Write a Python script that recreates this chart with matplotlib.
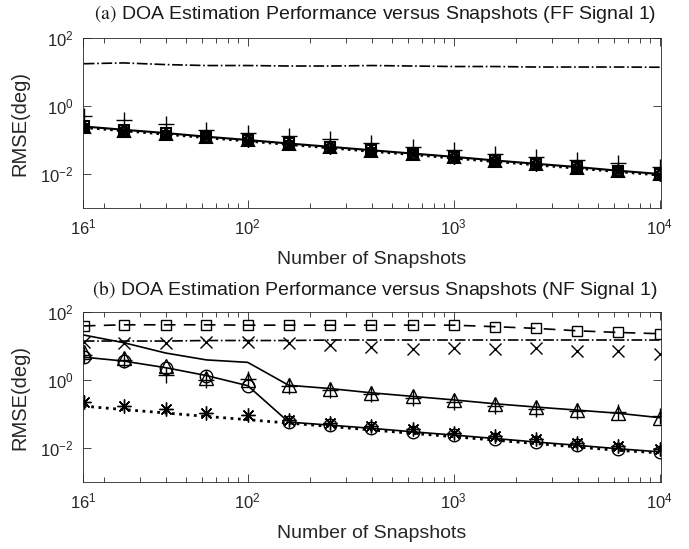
import matplotlib
matplotlib.use("Agg")
import matplotlib.pyplot as plt
from matplotlib.ticker import LogLocator, NullLocator, FixedLocator, FixedFormatter

plt.rcParams["font.family"] = ["Liberation Sans", "DejaVu Sans"]
plt.rcParams["mathtext.default"] = "regular"
plt.rcParams["mathtext.fontset"] = "stix"

# snapshot counts (x axis)
snapshots = [16, 25, 40, 63, 100, 158, 251, 398, 631, 1000, 1585, 2512, 3981, 6310, 10000]

x_ticks = [10 ** 1.2, 1e2, 1e3, 1e4]
x_tick_labels = ["$16^1$", "$10^2$", "$10^3$", "$10^4$"]
y_ticks = [1e-2, 1e0, 1e2]
y_tick_labels = ["$10^{-2}$", "$10^0$", "$10^2$"]

# (a) far-field signal
ff_dashdot = [17.5, 18.5, 16.5, 15.5, 15.5, 15.0, 15.0, 15.5, 15.0, 14.5, 14.5, 14.0, 14.0, 14.0, 13.8]
ff_plus = [0.50, 0.40, 0.30, 0.20, 0.16, 0.13, 0.105, 0.082, 0.062, 0.050, 0.040, 0.031, 0.026, 0.021, 0.016]
ff_square = [0.25, 0.20, 0.16, 0.125, 0.10, 0.079, 0.063, 0.050, 0.040, 0.032, 0.025, 0.020, 0.016, 0.0125, 0.010]
ff_triangle = [0.24, 0.19, 0.155, 0.12, 0.098, 0.076, 0.061, 0.048, 0.039, 0.031, 0.0245, 0.0195, 0.0155, 0.0122, 0.0098]
ff_circle = [0.245, 0.195, 0.155, 0.123, 0.099, 0.078, 0.062, 0.049, 0.039, 0.031, 0.025, 0.0198, 0.0157, 0.0124, 0.0099]
ff_star = [0.24, 0.19, 0.15, 0.12, 0.096, 0.076, 0.060, 0.048, 0.038, 0.030, 0.024, 0.019, 0.015, 0.012, 0.0095]
ff_crb = [0.23, 0.185, 0.146, 0.116, 0.092, 0.073, 0.058, 0.046, 0.037, 0.029, 0.023, 0.0184, 0.0146, 0.0116, 0.0092]

# (b) near-field signal
nf_square = [39, 42, 42, 42, 41, 41, 41, 41, 41, 41, 37, 33, 28, 25, 23]
nf_dashdot = [14, 14, 14, 14.5, 14.5, 14.5, 15, 15, 15, 15, 15, 15, 15, 15, 15]
nf_cross = [13.5, 12, 12, 13, 13, 12, 10.5, 9.5, 8, 9, 8, 8.5, 7, 7, 6]
nf_solid = [21, 12.5, 6.2, 3.9, 3.3, 0.70, 0.56, 0.42, 0.33, 0.26, 0.20, 0.16, 0.13, 0.105, 0.078]
nf_triangle = [6.5, 4.3, 2.5, 1.15, 1.0, 0.70, 0.56, 0.42, 0.33, 0.26, 0.20, 0.16, 0.13, 0.105, 0.078]
nf_plus = [5.5, 4.0, 1.4, 1.0, 1.05, 0.65, 0.50, 0.38, 0.29, 0.22, 0.17, 0.14, 0.12, 0.115, 0.085]
nf_circle = [4.7, 3.6, 2.3, 1.35, 0.68, 0.058, 0.047, 0.038, 0.030, 0.024, 0.019, 0.015, 0.012, 0.0095, 0.0077]
nf_star = [0.23, 0.17, 0.145, 0.11, 0.093, 0.068, 0.055, 0.044, 0.036, 0.028, 0.022, 0.018, 0.014, 0.0115, 0.0092]
nf_crb = [0.17, 0.135, 0.107, 0.085, 0.068, 0.054, 0.043, 0.034, 0.027, 0.0215, 0.017, 0.0135, 0.0107, 0.0085, 0.0072]

TEXT = "#262626"
ASTERISK = (8, 2, 0)
MK = dict(color="k", mfc="none", mew=1.0)
MK_A = dict(color="k", mfc="none", mew=1.5)


def style_axes(ax):
    ax.set_xscale("log")
    ax.set_yscale("log")
    ax.set_xlim(10 ** 1.2, 10150)
    ax.set_ylim(1e-3, 1e2)
    ax.xaxis.set_major_locator(FixedLocator(x_ticks))
    ax.xaxis.set_major_formatter(FixedFormatter(x_tick_labels))
    ax.xaxis.set_minor_locator(LogLocator(base=10, subs=range(2, 10)))
    ax.yaxis.set_major_locator(FixedLocator(y_ticks))
    ax.yaxis.set_major_formatter(FixedFormatter(y_tick_labels))
    ax.yaxis.set_minor_locator(NullLocator())
    ax.tick_params(which="both", direction="in", top=True, right=True,
                   colors=TEXT, labelsize=12, width=0.6)
    ax.tick_params(which="major", length=6, pad=7)
    ax.tick_params(which="minor", length=3.5)
    for s in ax.spines.values():
        s.set_color(TEXT)
        s.set_linewidth(0.6)
    ax.set_xlabel("Number of Snapshots", fontsize=14, color=TEXT)
    ax.set_ylabel("RMSE(deg)", fontsize=14.5, color=TEXT)
    ax.xaxis.set_label_coords(0.5, -0.25)
    ax.yaxis.set_label_coords(-0.092, 0.5)


fig = plt.figure(figsize=(6.89, 5.49), dpi=100)
ax1 = fig.add_axes([83 / 689, 1 - 208 / 549, 578 / 689, 170 / 549])
ax2 = fig.add_axes([83 / 689, 1 - 482 / 549, 578 / 689, 170 / 549])

# panel (a)
ax1.plot(snapshots, ff_dashdot, "-.", color="k", lw=1.2)
ax1.plot(snapshots, ff_plus, "+", ms=12, **MK)
ax1.plot(snapshots, ff_square, "-s", lw=1.5, ms=6.5, **MK_A)
ax1.plot(snapshots, ff_triangle, "^", ms=8, **MK_A)
ax1.plot(snapshots, ff_circle, "o", ms=6, **MK_A)
ax1.plot(snapshots, ff_star, ls="none", marker=ASTERISK, ms=9, **MK)
ax1.plot(snapshots, ff_crb, ":", color="k", lw=1.8)
style_axes(ax1)

# panel (b)
ax2.plot(snapshots, nf_square, "s", ls=(0, (7, 5)), lw=1.2, ms=7, **MK)
ax2.plot(snapshots, nf_dashdot, "-.", color="k", lw=1.2)
ax2.plot(snapshots, nf_cross, "x", ms=8, **MK)
ax2.plot(snapshots, nf_solid, "-", color="k", lw=1.2)
ax2.plot(snapshots, nf_triangle, "^", ms=10, **MK)
ax2.plot(snapshots, nf_plus, "+", ms=11, **MK)
ax2.plot(snapshots, nf_circle, "-o", lw=1.2, ms=9, **MK)
ax2.plot(snapshots, nf_star, ls="none", marker=ASTERISK, ms=10, **MK)
ax2.plot(snapshots, nf_crb, ":", color="k", lw=2.0)
style_axes(ax2)

fig.text(375 / 689, 1 - 14 / 549,
         r"$\mathrm{(a)}$ DOA Estimation Performance versus Snapshots (FF Signal 1)",
         ha="center", va="center", fontsize=14, color="#1a1a1a")
fig.text(375 / 689, 1 - 290 / 549,
         r"$\mathrm{(b)}$ DOA Estimation Performance versus Snapshots (NF Signal 1)",
         ha="center", va="center", fontsize=14, color="#1a1a1a")

fig.savefig("out.png", dpi=100)
